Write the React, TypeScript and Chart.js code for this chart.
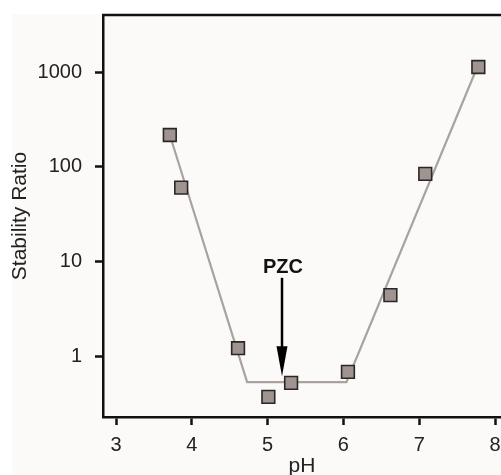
import React, { useEffect, useRef } from "react";
import { Chart, registerables } from "chart.js";

Chart.register(...registerables);

// Measured stability ratio vs pH
const phValues = [3.71, 3.86, 4.61, 5.01, 5.31, 6.06, 6.62, 7.08, 7.78];
const stabilityRatio = [216, 60, 1.21, 0.37, 0.52, 0.68, 4.4, 84, 1130];

// Fitted piecewise guide line
const fitPh = [3.71, 4.73, 6.04, 7.75];
const fitRatio = [216, 0.53, 0.53, 1050];

// Tick values
const xTicks = [3, 4, 5, 6, 7, 8];
const yTicks = [1, 10, 100, 1000];

// PZC annotation
const pzcPh = 5.19;
const pzcArrowTop = 6.7;
const pzcArrowTip = 0.61;
const pzcLabelAt = 8.7;
const pzcLabel = "PZC";

const FONT = "'Liberation Sans', Arial, Helvetica, sans-serif";

function zeroPadding(scale: any) {
  scale.paddingLeft = 0;
  scale.paddingRight = 0;
  scale.paddingTop = 0;
  scale.paddingBottom = 0;
}

export default function App() {
  const ref = useRef<HTMLCanvasElement | null>(null);

  useEffect(() => {
    const canvas = ref.current;
    if (!canvas) return;

    const decor = {
      id: "decor",
      beforeDraw(chart: any) {
        const ctx = chart.ctx;
        ctx.save();
        ctx.fillStyle = "#ffffff";
        ctx.fillRect(0, 0, chart.width, chart.height);
        ctx.fillStyle = "#fcfaf9";
        ctx.fillRect(12, 14, chart.width - 12, chart.height - 14);
        ctx.restore();
      },
      afterDraw(chart: any) {
        const ctx = chart.ctx;
        const { left, right, top } = chart.chartArea;
        ctx.save();
        ctx.strokeStyle = "#111111";
        ctx.lineWidth = 2.5;
        ctx.beginPath();
        ctx.moveTo(left - 1, top);
        ctx.lineTo(right + 2, top);
        ctx.stroke();
        ctx.restore();
      },
      afterDatasetsDraw(chart: any) {
        const ctx = chart.ctx;
        const xs = chart.scales.x;
        const ys = chart.scales.y;
        const x = xs.getPixelForValue(pzcPh);
        const yTop = ys.getPixelForValue(pzcArrowTop);
        const yTip = ys.getPixelForValue(pzcArrowTip);
        const yLabel = ys.getPixelForValue(pzcLabelAt);
        const headLen = 30;
        const headHalf = 5.5;
        ctx.save();
        ctx.strokeStyle = "#000000";
        ctx.fillStyle = "#000000";
        ctx.lineWidth = 2.5;
        ctx.beginPath();
        ctx.moveTo(x, yTop);
        ctx.lineTo(x, yTip - headLen + 2);
        ctx.stroke();
        ctx.beginPath();
        ctx.moveTo(x - headHalf, yTip - headLen);
        ctx.lineTo(x + headHalf, yTip - headLen);
        ctx.lineTo(x, yTip);
        ctx.closePath();
        ctx.fill();
        ctx.font = `bold 20px ${FONT}`;
        ctx.textAlign = "center";
        ctx.textBaseline = "middle";
        ctx.fillStyle = "#111111";
        ctx.fillText(pzcLabel, x + 1, yLabel);
        ctx.restore();
      },
    };

    const chart = new Chart(canvas, {
      type: "scatter",
      data: {
        datasets: [
          {
            label: "Stability ratio",
            data: phValues.map((p, i) => ({ x: p, y: stabilityRatio[i] })),
            pointStyle: "rect",
            pointRadius: 9,
            pointBorderWidth: 1.6,
            pointBorderColor: "#2b2726",
            pointBackgroundColor: "#9f9490",
            showLine: false,
          },
          {
            label: "Fit",
            data: fitPh.map((p, i) => ({ x: p, y: fitRatio[i] })),
            showLine: true,
            borderColor: "#aaa29e",
            borderWidth: 2.2,
            pointRadius: 0,
            tension: 0,
          },
        ],
      },
      options: {
        responsive: false,
        animation: false,
        devicePixelRatio: 1,
        layout: { autoPadding: false, padding: { top: 15, right: 0, left: 0, bottom: 0 } },
        plugins: {
          legend: { display: false },
          tooltip: { enabled: false },
        },
        scales: {
          x: {
            type: "linear",
            min: 2.8285,
            max: 8.079,
            afterFit(scale: any) {
              scale.height = 58;
              zeroPadding(scale);
            },
            afterBuildTicks(scale: any) {
              scale.ticks = xTicks.map((v) => ({ value: v }));
            },
            ticks: {
              includeBounds: false,
              padding: 8,
              color: "#222222",
              font: { family: FONT, size: 20 },
              maxRotation: 0,
              autoSkip: false,
              callback: (v: any) => String(v),
            },
            grid: {
              drawOnChartArea: false,
              drawTicks: true,
              tickLength: 8,
              tickWidth: 2.5,
              tickColor: "#111111",
            },
            border: { display: true, color: "#111111", width: 2.5 },
            title: {
              display: true,
              text: "pH",
              color: "#222222",
              font: { family: FONT, size: 21, lineHeight: 1 },
              padding: { top: 0, bottom: -2 },
            },
          },
          y: {
            type: "logarithmic",
            min: 0.227,
            max: 4000,
            afterFit(scale: any) {
              scale.width = 103;
              zeroPadding(scale);
            },
            afterBuildTicks(scale: any) {
              scale.ticks = yTicks.map((v) => ({ value: v }));
            },
            ticks: {
              padding: 13,
              color: "#222222",
              font: { family: FONT, size: 20 },
              autoSkip: false,
              callback: (v: any) => String(v),
            },
            grid: {
              drawOnChartArea: false,
              drawTicks: true,
              tickLength: 8,
              tickWidth: 2.5,
              tickColor: "#111111",
            },
            border: { display: true, color: "#111111", width: 2.5 },
            title: {
              display: true,
              text: "Stability Ratio",
              color: "#222222",
              font: { family: FONT, size: 21, lineHeight: 1 },
              padding: { top: 10, bottom: 0 },
            },
          },
        },
      },
      plugins: [decor],
    });

    return () => chart.destroy();
  }, []);

  return (
    <div style={{ position: "absolute", left: 0, top: 0, width: 501, height: 475, overflow: "hidden" }}>
      <canvas ref={ref} width={501} height={475} style={{ display: "block", width: 501, height: 475 }} />
    </div>
  );
}
